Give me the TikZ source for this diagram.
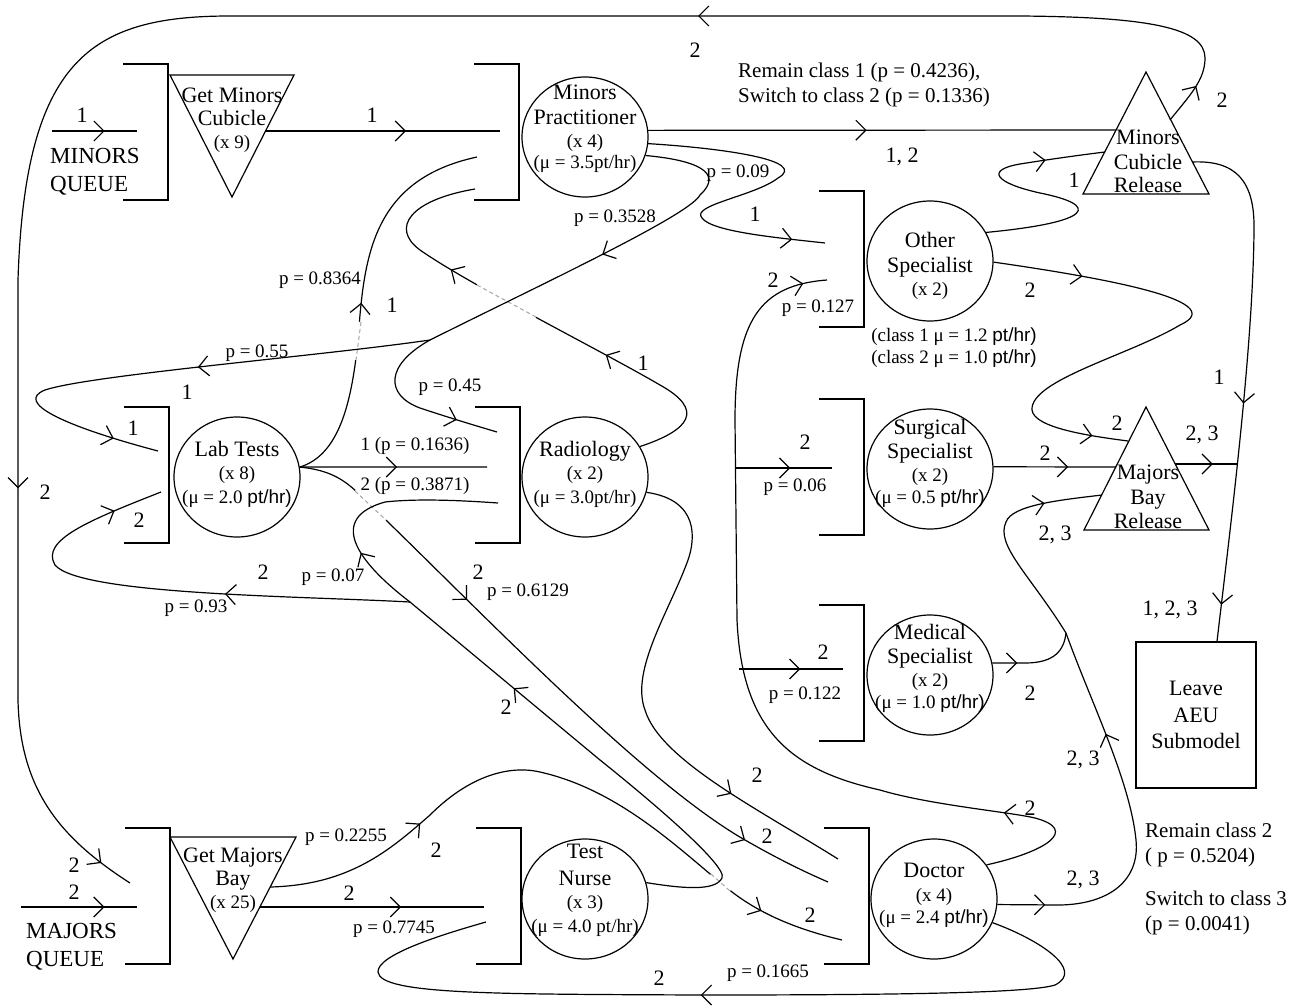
\documentclass[tikz,border=0pt]{standalone}
\usepackage{fontspec}
\setmainfont{Liberation Serif}
\newfontfamily\sansfam{Liberation Sans}
\usetikzlibrary{shapes.geometric,arrows.meta,decorations.markings}

\newcommand{\bigsz}{\fontsize{22}{25}\selectfont}
\newcommand{\smsz}{\fontsize{19}{22}\selectfont}

\begin{document}
\begin{tikzpicture}[x=1pt, y=-1pt,
    station/.style={draw, ellipse, line width=1.2pt, minimum width=126pt, minimum height=120pt, inner sep=0pt},
    stext/.style={align=center, font=\bigsz, inner sep=0pt},
    lbl/.style={font=\bigsz, inner sep=0pt},
    plbl/.style={font=\smsz, inner sep=0pt},
    note/.style={anchor=west, align=left, inner sep=0pt, font=\fontsize{21}{25}\selectfont},
    link/.style={line width=1.2pt},
    flow/.style={postaction={decorate, decoration={markings, mark=at position #1 with {\arrow{Straight Barb[length=10pt,width=20pt]}}}}},
    undergap/.style={preaction={draw=white, line width=6pt}, draw=gray!70, line width=1pt, dash pattern=on 4pt off 3pt},
    queue/.pic={\draw[line width=1.5pt] (-45,-68) -- (0,-68) -- (0,68) -- (-45,68);}
  ]
  \path[use as bounding box, fill=white] (0,0) rectangle (1308,1007);

  % Queues
  \pic (minq) at (168,132) {queue};
  \pic (mpq) at (519,132) {queue};
  \pic (labq) at (169,475) {queue};
  \pic (radq) at (520,475) {queue};
  \pic (othq) at (864,259) {queue};
  \pic (surgq) at (864,467) {queue};
  \pic (medq) at (864,673) {queue};
  \pic (majq) at (170,896) {queue};
  \pic (nurseq) at (521,896) {queue};
  \pic (docq) at (869,896) {queue};

  % Servers
  \node[station] (mp) at (585,137) {};
  \node[station] (lab) at (237,477) {};
  \node[station] (rad) at (585,477) {};
  \node[station] (oth) at (930,261) {};
  \node[station] (surg) at (930,469) {};
  \node[station] (med) at (930,675) {};
  \node[station] (nurse) at (585,899) {};
  \node[station] (doc) at (934,899) {};

  \node[stext] (mp-t) at (585,129) {Minors\\Practitioner\\[-2pt]{\smsz (x 4)}\\[-4pt]{\smsz (μ = 3.5pt/hr)}};
  \node[stext] (lab-t) at (237,474) {Lab Tests\\[-2pt]{\smsz (x 8)}\\[-1pt]{\smsz (μ = 2.0 {\sansfam pt/hr)}}};
  \node[stext] (rad-t) at (585,474) {Radiology\\[-2pt]{\smsz (x 2)}\\[-1pt]{\smsz (μ = 3.0pt/hr)}};
  \node[stext] (oth-t) at (930,266) {Other\\Specialist\\[-2pt]{\smsz (x 2)}};
  \node[stext] (surg-t) at (930,463) {Surgical\\[-1pt]Specialist\\[-2pt]{\smsz (x 2)}\\[-3pt]{\smsz (μ = 0.5 {\sansfam pt/hr)}}};
  \node[stext] (med-t) at (930,668) {Medical\\[-1pt]Specialist\\[-2pt]{\smsz (x 2)}\\[-3pt]{\smsz (μ = 1.0 {\sansfam pt/hr)}}};
  \node[stext] (nurse-t) at (585,890) {Test\\[2pt]Nurse\\[-2pt]{\smsz (x 3)}\\[-1pt]{\smsz (μ = 4.0 pt/hr)}};
  \node[stext] (doc-t) at (934,895) {Doctor\\[-1pt]{\smsz (x 4)}\\[-3pt]{\smsz (μ = 2.4 {\sansfam pt/hr)}}};

  % Cubicles, bays and release points
  \draw[line width=1.2pt] (170,75) -- (294,75) -- (232,197) -- cycle;
  \node[stext] (gmc) at (232,120) {Get Minors\\[-2pt]Cubicle\\[-2pt]{\smsz (x 9)}};
  \draw[line width=1.2pt] (170,837) -- (296,837) -- (233,959) -- cycle;
  \node[stext] (gmb) at (233,880) {Get Majors\\[-2pt]Bay\\[-2pt]{\smsz (x 25)}};
  \draw[line width=1.2pt] (1083,194) -- (1209,194) -- (1146,72) -- cycle;
  \node[stext] (mcr) at (1148,161) {Minors\\Cubicle\\[-2pt]Release};
  \draw[line width=1.2pt] (1084,530) -- (1209,530) -- (1146,407) -- cycle;
  \node[stext] (mbr) at (1148,497) {Majors\\Bay\\[-1pt]Release};

  \node[draw, line width=1.2pt, minimum width=120pt, minimum height=146pt, align=center, font=\bigsz] (leave) at (1196,715) {Leave\\[1.5pt]AEU\\[1.5pt]Submodel};

  \node[anchor=west, align=left, inner sep=0pt, font=\fontsize{23}{28}\selectfont] (minq-t) at (50,172) {MINORS\\QUEUE};
  \node[anchor=west, align=left, inner sep=0pt, font=\fontsize{23}{28}\selectfont] (majq-t) at (26,947) {MAJORS\\QUEUE};

  % End points
  \coordinate (minsrc) at (52,131);
  \coordinate (minq1) at (137,131);
  \coordinate (gmc-r) at (265,131);
  \coordinate (mpq1) at (500,131);
  \coordinate (mpq2) at (477,157);
  \coordinate (mpq3) at (475,189);
  \coordinate (mcr-l) at (1116,130);
  \coordinate (mcr-t) at (1170,120);
  \coordinate (mcr-r) at (1192,162);
  \coordinate (mcr-l2) at (1105,152);
  \coordinate (majsrc) at (21,907);
  \coordinate (majq1) at (130,883);
  \coordinate (majq2) at (137,907);
  \coordinate (labq1) at (158,451);
  \coordinate (labq2) at (161,492);
  \coordinate (radq1) at (497,432);
  \coordinate (radq2) at (487,467);
  \coordinate (radq3) at (498,503);
  \coordinate (othq1) at (825,243);
  \coordinate (othq2) at (827,280);
  \coordinate (surgq1) at (832,468);
  \coordinate (medq1) at (843,669);
  \coordinate (gmb-r1) at (270,887);
  \coordinate (gmb-r2) at (260,907);
  \coordinate (nurseq1) at (484,907);
  \coordinate (nurseq2) at (486,922);
  \coordinate (docq1) at (838,859);
  \coordinate (docq2) at (828,882);
  \coordinate (docq3) at (842,940);
  \coordinate (mbr-l1) at (1128,441);
  \coordinate (mbr-l2) at (1116,467);
  \coordinate (mbr-l3) at (1102,495);
  \coordinate (mbr-r) at (1175,464);
  \coordinate (leavej) at (1238,464);
  \coordinate (mpsplit) at (430,340);
  \coordinate (nsplit) at (410,602);
  \coordinate (surgj) at (735,468);
  \coordinate (medj) at (739,669);
  \coordinate (mbrjoin) at (1066,633);

  % Edges that pass underneath
  \draw[link, flow=163pt, flow=340pt] (rad.29) .. controls (690,430) and (705,410) .. (660,385) .. controls (600,350) and (470,285) .. (420,250) .. controls (390,228) and (410,200) .. (mpq3);
  \draw[link, flow=185pt] (lab.9) .. controls (340,455) and (352,400) .. (358,340) .. controls (364,260) and (370,180) .. (mpq2);
  \draw[link, flow=218pt, flow=-93pt] (lab.9) .. controls (330,470) and (345,480) .. (360,495) .. controls (470,600) and (640,780) .. (745,840) .. controls (780,860) and (805,872) .. (docq2);
  \draw[link, flow=167pt, flow=-86pt] (gmb-r1) .. controls (350,885) and (390,850) .. (430,815) .. controls (470,775) and (510,765) .. (540,772) .. controls (620,790) and (680,850) .. (727,888) .. controls (760,915) and (800,930) .. (docq3);

  \draw[undergap] (536,317) -- (477,285);
  \draw[undergap] (361,322) -- (356,360);
  \draw[undergap] (355,491) -- (386,520);
  \draw[undergap] (711,874) -- (730,891);

  % Edges
  \draw[link, flow=0.62] (minsrc) -- (minq1);
  \draw[link, flow=0.6] (gmc-r) -- (mpq1);
  \draw[link, flow=0.467] (mp.6) -- (mcr-l);
  \draw[link, flow=43pt, flow=595pt, flow=1666pt, flow=-35pt] (mcr-t) .. controls (1190,95) and (1205,80) .. (1205,58) .. controls (1205,28) and (1150,17) .. (1020,16) -- (230,16) .. controls (90,16) and (25,60) .. (18,280) -- (18,700) .. controls (20,790) and (60,838) .. (majq1);
  \draw[link, flow=-33pt] (mp.-6) .. controls (720,148) and (810,160) .. (778,178) .. controls (755,196) and (690,205) .. (702,218) .. controls (712,232) and (780,238) .. (othq1);
  \draw[link, flow=205pt, flow=631pt, flow=-46pt] (mp.-17) .. controls (695,160) and (725,172) .. (700,195) .. controls (690,215) and (540,285) .. (mpsplit) .. controls (320,356) and (90,375) .. (45,390) .. controls (15,402) and (60,425) .. (labq1);
  \draw[link, flow=-42pt] (mpsplit) .. controls (385,365) and (385,395) .. (420,408) .. controls (450,418) and (480,427) .. (radq1);
  \draw[link, flow=0.52] (lab.9) -- (radq2);
  \draw[link, flow=-125pt] (rad.-14) .. controls (700,500) and (695,540) .. (688,560) .. controls (670,610) and (630,670) .. (645,710) .. controls (660,760) and (760,810) .. (docq1);
  \draw[link, flow=363pt, flow=683pt, flow=-50pt] (nurse.15) .. controls (680,888) and (715,892) .. (722,878) .. controls (728,866) and (650,800) .. (600,760) -- (nsplit) .. controls (300,596) and (80,595) .. (55,565) .. controls (40,540) and (90,520) .. (labq2);
  \draw[link, flow=70pt] (nsplit) .. controls (355,560) and (328,518) .. (385,502) .. controls (420,498) and (470,501) .. (radq3);
  \draw[link, flow=0.72] (majsrc) -- (majq2);
  \draw[link, flow=0.63] (gmb-r2) -- (nurseq1);
  \draw[link, flow=462pt] (doc.-22) .. controls (1040,940) and (1085,970) .. (1055,985) .. controls (1030,993) and (900,995) .. (700,995) .. controls (500,994) and (380,995) .. (378,972) .. controls (377,955) and (440,935) .. (nurseq2);
  \draw[link, flow=137pt, flow=-24pt] (doc.33) .. controls (1045,852) and (1080,830) .. (1035,818) .. controls (1010,812) and (930,805) .. (880,790) .. controls (790,770) and (742,730) .. (737,620) -- (735,420) .. controls (735,320) and (760,285) .. (othq2);
  \draw[link, flow=0.57] (surgj) -- (surgq1);
  \draw[link, flow=0.59] (medj) -- (medq1);
  \draw[link, flow=0.61] (surg.2) -- (mbr-l2);
  \draw[link, flow=25pt] (med.11) -- (1025,663) .. controls (1055,663) and (1064,650) .. (mbrjoin);
  \draw[link, flow=48pt, flow=288pt, flow=-58pt] (doc.-5) -- (1060,905) .. controls (1110,904) and (1140,880) .. (1136,840) .. controls (1130,780) and (1090,700) .. (mbrjoin) .. controls (1030,575) and (995,545) .. (1006,522) .. controls (1012,505) and (1060,500) .. (mbr-l3);
  \draw[link, flow=-60pt] (oth.27) .. controls (1095,222) and (1100,205) .. (1040,193) .. controls (995,183) and (985,170) .. (1020,164) .. controls (1045,160) and (1080,155) .. (mcr-l2);
  \draw[link, flow=90pt, flow=-36pt] (oth.-1) .. controls (1090,276) and (1235,300) .. (1180,325) .. controls (1130,355) and (1030,380) .. (1032,410) .. controls (1034,428) and (1090,436) .. (mbr-l1);
  \draw[link, flow=0.6] (mbr-r) -- (leavej);
  \draw[link, flow=282pt, flow=-37pt] (mcr-r) .. controls (1235,160) and (1255,180) .. (1254,230) .. controls (1253,350) and (1230,530) .. ([xshift=21pt]leave.north);

  % Labels
  \node[lbl] (c-minin) at (82,115) {1};
  \node[lbl] (c-gmc) at (372,115) {1};
  \node[note] (c-mpmcr) at (738,85) {Remain class 1 (p = 0.4236),\\Switch to class 2 (p = 0.1336)};
  \node[lbl] (c-mcrin) at (902,157) {1, 2};
  \node[lbl] (c-top) at (695,50) {2};
  \node[lbl] (c-top2) at (1222,100) {2};
  \node[lbl] (c-left) at (45,492) {2};
  \node[plbl] (p-009) at (738,173) {p = 0.09};
  \node[lbl] (c-009) at (755,214) {1};
  \node[plbl] (p-3528) at (615,218) {p = 0.3528};
  \node[plbl] (p-8364) at (320,280) {p = 0.8364};
  \node[lbl] (c-8364) at (392,305) {1};
  \node[lbl] (c-radmp) at (643,363) {1};
  \node[plbl] (p-055) at (257,353) {p = 0.55};
  \node[lbl] (c-055) at (187,392) {1};
  \node[lbl] (c-labin1) at (133,428) {1};
  \node[plbl] (p-045) at (450,387) {p = 0.45};
  \node[plbl] (p-1636) at (415,446) {1 (p = 0.1636)};
  \node[plbl] (p-3871) at (415,486) {2 (p = 0.3871)};
  \node[lbl] (c-labin2) at (139,520) {2};
  \node[lbl] (c-093) at (263,572) {2};
  \node[plbl] (p-093) at (196,608) {p = 0.93};
  \node[plbl] (p-007) at (333,577) {p = 0.07};
  \node[lbl] (c-6129) at (478,572) {2};
  \node[plbl] (p-6129) at (528,592) {p = 0.6129};
  \node[lbl] (c-ret) at (506,707) {2};
  \node[lbl] (c-oth2) at (773,280) {2};
  \node[plbl] (p-0127) at (818,308) {p = 0.127};
  \node[plbl, align=center] (oth-rates) at (954,348) {(class 1 μ = 1.2 {\sansfam pt/hr)}\\(class 2 μ = 1.0 {\sansfam pt/hr)}};
  \node[lbl] (c-othmcr) at (1074,180) {1};
  \node[lbl] (c-othmbr) at (1030,290) {2};
  \node[lbl] (c-othmbr2) at (1117,423) {2};
  \node[lbl] (c-surgin) at (805,442) {2};
  \node[plbl] (p-006) at (795,487) {p = 0.06};
  \node[lbl] (c-surgout) at (1045,453) {2};
  \node[lbl] (c-mbrout) at (1202,435) {2, 3};
  \node[lbl] (c-mcrout) at (1219,377) {1};
  \node[lbl] (c-doc23b) at (1055,535) {2, 3};
  \node[lbl] (c-leave) at (1170,610) {1, 2, 3};
  \node[lbl] (c-medin) at (823,652) {2};
  \node[plbl] (p-0122) at (805,695) {p = 0.122};
  \node[lbl] (c-medout) at (1030,693) {2};
  \node[lbl] (c-doc23a) at (1083,760) {2, 3};
  \node[lbl] (c-raddoc) at (757,775) {2};
  \node[lbl] (c-labdoc) at (767,836) {2};
  \node[lbl] (c-gmbdoc) at (810,915) {2};
  \node[lbl] (c-docoth) at (1030,808) {2};
  \node[note] (c-remain2) at (1145,845) {Remain class 2\\( p = 0.5204)};
  \node[note] (c-switch3) at (1145,913) {Switch to class 3\\(p = 0.0041)};
  \node[lbl] (c-doc23) at (1083,880) {2, 3};
  \node[plbl] (p-2255) at (346,837) {p = 0.2255};
  \node[lbl] (c-2255) at (436,850) {2};
  \node[lbl] (c-majin1) at (74,865) {2};
  \node[lbl] (c-majin2) at (74,892) {2};
  \node[lbl] (c-7745) at (349,893) {2};
  \node[plbl] (p-7745) at (394,929) {p = 0.7745};
  \node[lbl] (c-1665) at (659,978) {2};
  \node[plbl] (p-1665) at (768,973) {p = 0.1665};
\end{tikzpicture}
\end{document}
